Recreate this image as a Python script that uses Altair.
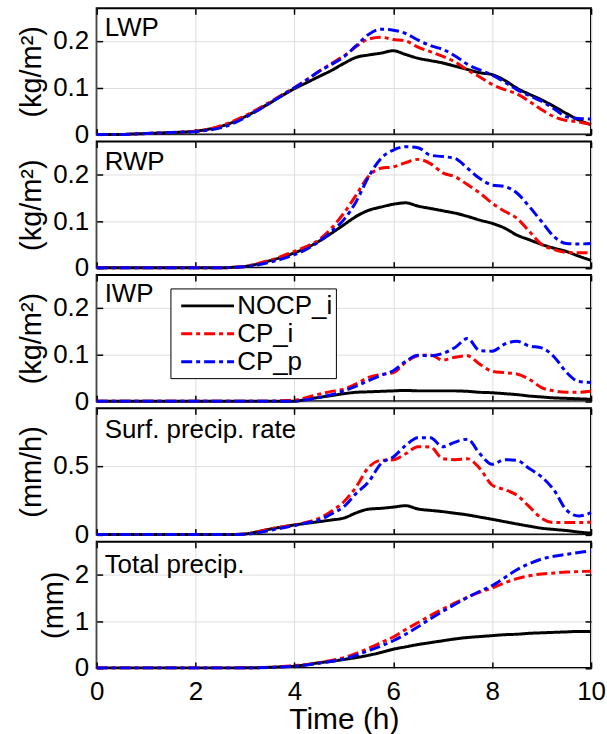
import altair as alt
import pandas as pd

FONT = "Liberation Sans"

time_h = [0.0, 0.25, 0.5, 0.75, 1.0, 1.25, 1.5, 1.75, 2.0, 2.25, 2.5, 2.75, 3.0, 3.25,
          3.5, 3.75, 4.0, 4.25, 4.5, 4.75, 5.0, 5.25, 5.5, 5.75, 6.0, 6.25, 6.5, 6.75,
          7.0, 7.25, 7.5, 7.75, 8.0, 8.25, 8.5, 8.75, 9.0, 9.25, 9.5, 9.75, 10.0]

series_names = ["NOCP_i", "CP_i", "CP_p"]
series_colors = ["#000000", "#ff0000", "#0000ff"]
series_dashes = [[1, 0], [11, 4, 4, 4], [11, 4, 4, 4]]

x_ticks = [0, 2, 4, 6, 8, 10]

# LWP (kg/m2)
lwp_nocp_i = [0, 0, 0, 0.001, 0.002, 0.003, 0.004, 0.005, 0.007, 0.011, 0.017, 0.026, 0.038, 0.052,
              0.067, 0.083, 0.098, 0.111, 0.124, 0.137, 0.152, 0.165, 0.170, 0.174, 0.179, 0.171,
              0.163, 0.158, 0.153, 0.146, 0.139, 0.132, 0.128, 0.116, 0.099, 0.086, 0.074, 0.060,
              0.045, 0.031, 0.021]
lwp_cp_i = [0, 0, 0, 0.001, 0.002, 0.003, 0.004, 0.005, 0.007, 0.011, 0.018, 0.028, 0.040, 0.054,
            0.069, 0.085, 0.100, 0.117, 0.135, 0.152, 0.168, 0.188, 0.204, 0.208, 0.203, 0.200,
            0.187, 0.177, 0.167, 0.155, 0.138, 0.123, 0.107, 0.096, 0.087, 0.071, 0.053, 0.038,
            0.030, 0.027, 0.021]
lwp_cp_p = [0, 0, 0, 0.001, 0.002, 0.003, 0.004, 0.005, 0.006, 0.009, 0.014, 0.023, 0.036, 0.051,
            0.067, 0.084, 0.100, 0.117, 0.135, 0.150, 0.166, 0.190, 0.214, 0.225, 0.223, 0.216,
            0.202, 0.190, 0.182, 0.168, 0.150, 0.138, 0.127, 0.112, 0.096, 0.083, 0.071, 0.055,
            0.038, 0.034, 0.033]

# RWP (kg/m2)
rwp_nocp_i = [0, 0, 0, 0, 0, 0, 0, 0, 0, 0, 0, 0.001, 0.003, 0.008, 0.015, 0.023, 0.032, 0.043,
              0.057, 0.074, 0.092, 0.110, 0.123, 0.130, 0.136, 0.139, 0.132, 0.127, 0.122, 0.117,
              0.110, 0.102, 0.095, 0.085, 0.070, 0.060, 0.050, 0.042, 0.035, 0.025, 0.016]
rwp_cp_i = [0, 0, 0, 0, 0, 0, 0, 0, 0, 0, 0, 0.001, 0.003, 0.009, 0.016, 0.025, 0.035, 0.046,
            0.060, 0.085, 0.117, 0.156, 0.196, 0.213, 0.216, 0.225, 0.232, 0.223, 0.203, 0.195,
            0.178, 0.160, 0.138, 0.121, 0.106, 0.078, 0.050, 0.039, 0.033, 0.032, 0.032]
rwp_cp_p = [0, 0, 0, 0, 0, 0, 0, 0, 0, 0, 0, 0.001, 0.002, 0.006, 0.012, 0.019, 0.028, 0.040,
            0.056, 0.078, 0.103, 0.142, 0.195, 0.234, 0.252, 0.259, 0.257, 0.241, 0.238, 0.234,
            0.213, 0.191, 0.177, 0.174, 0.160, 0.131, 0.099, 0.067, 0.052, 0.051, 0.052]

# IWP (kg/m2)
iwp_nocp_i = [0, 0, 0, 0, 0, 0, 0, 0, 0, 0, 0, 0, 0, 0, 0, 0, 0, 0.004, 0.008, 0.012, 0.016,
              0.019, 0.020, 0.021, 0.022, 0.023, 0.022, 0.022, 0.022, 0.022, 0.021, 0.019, 0.018,
              0.016, 0.014, 0.011, 0.009, 0.007, 0.006, 0.005, 0.004]
iwp_cp_i = [0, 0, 0, 0, 0, 0, 0, 0, 0, 0, 0, 0, 0, 0, 0, 0.001, 0.002, 0.008, 0.015, 0.021, 0.026,
            0.037, 0.051, 0.057, 0.061, 0.083, 0.097, 0.099, 0.088, 0.094, 0.097, 0.079, 0.064,
            0.061, 0.058, 0.047, 0.029, 0.022, 0.019, 0.019, 0.021]
iwp_cp_p = [0, 0, 0, 0, 0, 0, 0, 0, 0, 0, 0, 0, 0, 0, 0, 0, 0, 0.003, 0.008, 0.014, 0.022,
            0.032, 0.044, 0.055, 0.065, 0.085, 0.098, 0.097, 0.102, 0.115, 0.134, 0.108, 0.107,
            0.122, 0.128, 0.118, 0.114, 0.095, 0.062, 0.042, 0.040]

# Surface precipitation rate (mm/h)
spr_nocp_i = [0, 0, 0, 0, 0, 0, 0, 0, 0, 0, 0, 0, 0.004, 0.020, 0.039, 0.055, 0.070, 0.082,
              0.094, 0.106, 0.120, 0.158, 0.185, 0.191, 0.200, 0.210, 0.186, 0.176, 0.167, 0.155,
              0.143, 0.127, 0.111, 0.094, 0.077, 0.061, 0.046, 0.037, 0.029, 0.018, 0.010]
spr_cp_i = [0, 0, 0, 0, 0, 0, 0, 0, 0, 0, 0, 0, 0.004, 0.020, 0.040, 0.055, 0.070, 0.090, 0.118,
            0.170, 0.239, 0.348, 0.490, 0.541, 0.545, 0.589, 0.640, 0.638, 0.553, 0.546, 0.553,
            0.481, 0.360, 0.328, 0.287, 0.203, 0.118, 0.087, 0.087, 0.088, 0.089]
spr_cp_p = [0, 0, 0, 0, 0, 0, 0, 0, 0, 0, 0, 0, 0.002, 0.012, 0.030, 0.048, 0.065, 0.085, 0.106,
            0.150, 0.203, 0.300, 0.384, 0.517, 0.565, 0.650, 0.705, 0.705, 0.640, 0.674, 0.695,
            0.589, 0.512, 0.546, 0.541, 0.481, 0.420, 0.324, 0.179, 0.135, 0.159]

# Total precipitation (mm)
tp_nocp_i = [0, 0, 0, 0, 0, 0, 0, 0, 0, 0, 0, 0, 0.001, 0.004, 0.012, 0.024, 0.036, 0.07, 0.11,
             0.14, 0.18, 0.22, 0.27, 0.33, 0.40, 0.45, 0.50, 0.54, 0.58, 0.62, 0.65, 0.67, 0.69,
             0.71, 0.72, 0.74, 0.75, 0.76, 0.77, 0.78, 0.78]
tp_cp_i = [0, 0, 0, 0, 0, 0, 0, 0, 0, 0, 0, 0, 0.001, 0.005, 0.013, 0.03, 0.05, 0.07, 0.11, 0.16,
           0.22, 0.31, 0.42, 0.54, 0.66, 0.82, 0.97, 1.12, 1.26, 1.39, 1.51, 1.62, 1.71, 1.82,
           1.91, 1.97, 2.01, 2.03, 2.05, 2.06, 2.07]
tp_cp_p = [0, 0, 0, 0, 0, 0, 0, 0, 0, 0, 0, 0, 0, 0.003, 0.009, 0.02, 0.035, 0.06, 0.10, 0.14,
           0.19, 0.27, 0.37, 0.47, 0.58, 0.72, 0.88, 1.05, 1.21, 1.36, 1.51, 1.64, 1.76, 1.93,
           2.10, 2.23, 2.33, 2.39, 2.43, 2.47, 2.50]

panel_labels = ["LWP", "RWP", "IWP", "Surf. precip. rate", "Total precip."]
panel_ytitles = ["(kg/m\u00b2)", "(kg/m\u00b2)", "(kg/m\u00b2)", "(mm/h)", "(mm)"]
panel_ymax = [0.27, 0.27, 0.27, 0.92, 2.7]
panel_yticks = [[0, 0.1, 0.2], [0, 0.1, 0.2], [0, 0.1, 0.2], [0, 0.5], [0, 1, 2]]
panel_series = [
    [lwp_nocp_i, lwp_cp_i, lwp_cp_p],
    [rwp_nocp_i, rwp_cp_i, rwp_cp_p],
    [iwp_nocp_i, iwp_cp_i, iwp_cp_p],
    [spr_nocp_i, spr_cp_i, spr_cp_p],
    [tp_nocp_i, tp_cp_i, tp_cp_p],
]

# styling
W = 496
H = 126.6
LABEL_Y = [28, 28, 27, 30, 31]
TICK = 6
GRID = "#dedede"


def make_panel(i):
    rows = []
    for k, name in enumerate(series_names):
        for t, v in zip(time_h, panel_series[i][k]):
            rows.append({"time": t, "value": v, "series": name})
    df = pd.DataFrame(rows)
    last = i == 4
    show_legend = i == 2

    xscale = alt.Scale(domain=[0, 10], nice=False, zero=False)
    yscale = alt.Scale(domain=[0, panel_ymax[i]], nice=False, zero=False)

    if show_legend:
        leg = alt.Legend(
            title=None, orient="none", legendX=74, legendY=13.5, direction="vertical",
            symbolType="M-0.515,0H3.56", symbolSize=676, symbolStrokeWidth=3,
            labelFont=FONT, labelFontSize=26, labelColor="black", labelOffset=35,
            strokeColor="black", fillColor="white", padding=3, rowPadding=0,
            cornerRadius=0, labelLimit=0,
        )
    else:
        leg = None

    x_axis_kwargs = dict(
        orient="bottom", values=x_ticks, grid=True, gridColor=GRID, gridWidth=1,
        domain=False, offset=-TICK, tickSize=TICK, ticks=True, labels=last,
        labelPadding=11, labelFlush=False,
    )
    if last:
        x_axis_kwargs["title"] = "Time (h)"
        x_axis_kwargs["titlePadding"] = 0
        x_axis_kwargs["titleFontSize"] = 30
    else:
        x_axis_kwargs["title"] = None

    def series_layer(name):
        return alt.Chart(df).transform_filter(
            alt.datum.series == name
        ).mark_line(strokeWidth=3, interpolate="monotone").encode(
            x=alt.X("time:Q", scale=xscale, axis=alt.Axis(**x_axis_kwargs)),
            y=alt.Y("value:Q", scale=yscale, axis=alt.Axis(
                orient="left", values=panel_yticks[i], format="~g", grid=True,
                gridColor=GRID, gridWidth=1, domain=False, offset=-TICK, tickSize=TICK,
                labelPadding=8, labelFlush=False, title=panel_ytitles[i], titlePadding=6)),
            color=alt.Color("series:N",
                            scale=alt.Scale(domain=series_names, range=series_colors),
                            legend=leg),
            strokeDash=alt.StrokeDash("series:N",
                                      scale=alt.Scale(domain=series_names,
                                                      range=series_dashes),
                                      legend=leg),
            order=alt.Order("time:Q"),
        )

    lines = alt.layer(*[series_layer(n) for n in series_names])

    frame_ticks = alt.Chart(df).mark_line(opacity=0).encode(
        x=alt.X("time:Q", scale=xscale, axis=alt.Axis(
            orient="top", values=x_ticks, grid=False, domain=False, offset=-TICK,
            tickSize=TICK, labels=False, title=None)),
        y=alt.Y("value:Q", scale=yscale, axis=alt.Axis(
            orient="right", values=panel_yticks[i], grid=False, domain=False, offset=-TICK,
            tickSize=TICK, labels=False, title=None)),
        detail="series:N",
    )

    label = alt.Chart(pd.DataFrame({"label": [panel_labels[i]]})).mark_text(
        align="left", baseline="alphabetic", font=FONT, fontSize=26, color="black"
    ).encode(x=alt.value(8), y=alt.value(LABEL_Y[i]), text="label:N")

    return alt.layer(lines, frame_ticks, label).resolve_axis(
        x="independent", y="independent"
    ).properties(width=W, height=H)


chart = alt.vconcat(
    *[make_panel(i) for i in range(5)], spacing=6.8, bounds="flush"
).resolve_scale(
    color="independent", strokeDash="independent"
).properties(
    padding={"left": 16, "top": 5, "right": 0, "bottom": 40},
    background="white",
).configure_view(
    stroke="black", strokeWidth=2
).configure_axis(
    labelFont=FONT, labelFontSize=26, labelColor="black",
    titleFont=FONT, titleFontSize=29, titleFontWeight="normal", titleColor="black",
    tickColor="black", tickWidth=1.5,
)

chart.save("out.html", embed_options={"renderer": "svg", "actions": False})
